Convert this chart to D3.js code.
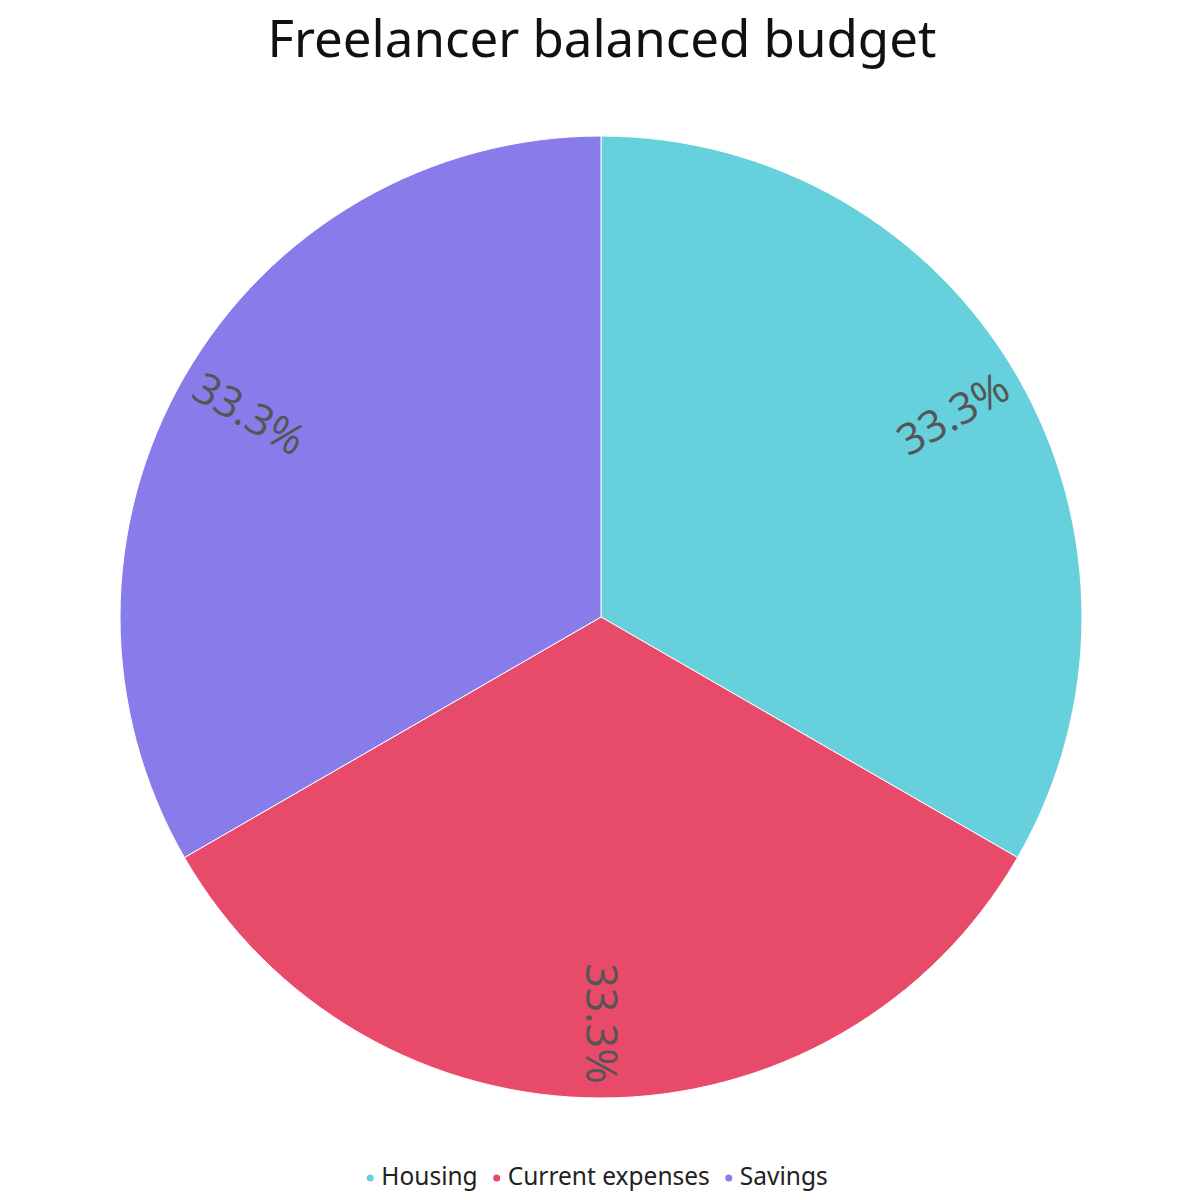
<!DOCTYPE html>
<html><head><meta charset="utf-8">
<script src="https://cdn.jsdelivr.net/npm/d3@7"></script>
<style>body{margin:0;background:#fff}</style>
</head><body>
<svg id="c" width="1200" height="1200"></svg>
<script>
const categories = ["Housing", "Current expenses", "Savings"];
const values = [33.3, 33.3, 33.3];
const colors = ["#66d0dc", "#e84a69", "#887ceb"];
const title = "Freelancer balanced budget";

const svg = d3.select("#c");
const cx = 601, cy = 617, R = 481;

svg.append("text").attr("x", 602).attr("y", 57).attr("text-anchor", "middle")
  .attr("font-family", "Noto Sans").attr("font-size", 51).attr("fill", "#111").text(title);

const data = categories.map((c, i) => ({cat: c, value: values[i], color: colors[i]}));
const pie = d3.pie().value(d => d.value).sort(null);
const arcs = pie(data);
const arc = d3.arc().innerRadius(0).outerRadius(R);
const labelArc = d3.arc().innerRadius(R * 0.845).outerRadius(R * 0.845);

const g = svg.append("g").attr("transform", `translate(${cx},${cy})`);
g.selectAll("path").data(arcs).join("path")
  .attr("d", arc).attr("fill", d => d.data.color)
  .attr("stroke", "#fff").attr("stroke-width", 1);

const total = d3.sum(values);
g.selectAll("text.lbl").data(arcs).join("text").attr("class", "lbl")
  .attr("transform", d => {
    const [x, y] = labelArc.centroid(d);
    let a = (d.startAngle + d.endAngle) / 2 * 180 / Math.PI;
    let rot = a <= 180.5 ? a - 90 : a - 270;
    return `translate(${x},${y}) rotate(${rot})`;
  })
  .attr("text-anchor", "middle").attr("dy", "0.35em")
  .attr("font-family", "Open Sans").attr("font-size", 43).attr("fill", "#555")
  .text(d => (d.data.value / total * 100).toFixed(1) + "%");

// legend
const leg = svg.append("g");
const items = [];
data.forEach(d => {
  const it = leg.append("g");
  it.append("circle").attr("cx", 0).attr("cy", -7).attr("r", 3.5).attr("fill", d.color);
  const t = it.append("text").attr("x", 11).attr("y", 0).attr("font-family", "Noto Sans")
    .attr("font-size", 24.5).attr("fill", "#222").text(d.cat);
  const w = 11 + t.node().getComputedTextLength();
  items.push({it, w});
});
const gap = 19;
const totalW = d3.sum(items, d => d.w) + gap * (items.length - 1);
let sx = 599 - totalW / 2;
items.forEach(d => { d.it.attr("transform", `translate(${sx},1185)`); sx += d.w + gap; });
</script>
</body></html>
